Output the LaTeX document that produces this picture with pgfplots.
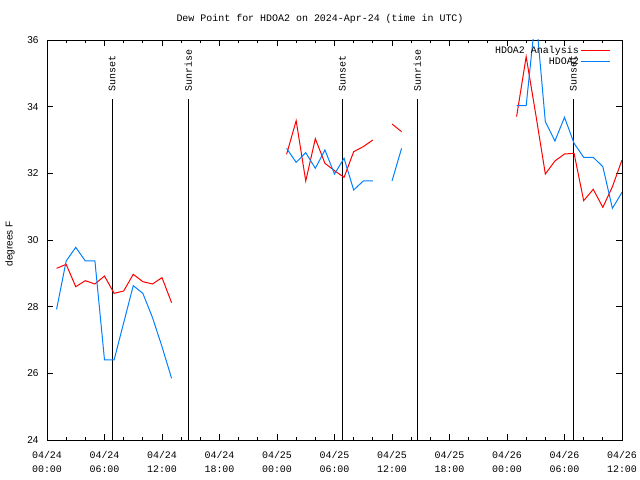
\documentclass[border=0pt]{standalone}
\usepackage{fontspec}
\setmainfont{Liberation Sans}
\newfontfamily\mono{Liberation Mono}
\usepackage{pgfplots}
\pgfplotsset{compat=1.18}
\definecolor{myblue}{RGB}{0,128,255}
\definecolor{myred}{RGB}{255,0,0}
\begin{document}
\begin{tikzpicture}
\useasboundingbox (0,0) rectangle (640bp,480bp);
\begin{axis}[
  at={(47bp,40bp)}, anchor=south west, scale only axis,
  width=575bp, height=400bp,
  xmin=0, xmax=60, ymin=24, ymax=36,
  xtick={0,6,...,60}, minor x tick num=2,
  xticklabels={{04/24\\00:00},{04/24\\06:00},{04/24\\12:00},{04/24\\18:00},{04/25\\00:00},{04/25\\06:00},{04/25\\12:00},{04/25\\18:00},{04/26\\00:00},{04/26\\06:00},{04/26\\12:00}},
  xticklabel style={font=\mono\fontsize{10}{14}\selectfont, align=center, yshift=-8bp},
  ytick={24,26,...,36},
  yticklabel style={font=\fontsize{10}{12}\selectfont, xshift=-5bp},
  /pgf/number format/assume math mode=true,
  major tick length=6bp, minor tick length=3bp,
  axis line style={line width=0.8bp},
  every tick/.style={black, line width=0.8bp},
  title={Dew Point for HDOA2 on 2024-Apr-24 (time in UTC)},
  title style={font=\mono\fontsize{10}{12}\selectfont, at={(axis description cs:0.4748,1)}, anchor=base, yshift=13bp},
  ylabel={degrees F},
  ylabel style={font=\fontsize{10}{12}\selectfont, at={(axis description cs:-0.0643,0.49)}, anchor=center},
  unbounded coords=jump,
  legend style={draw=none, fill=none, at={(axis description cs:0.986,0.995)}, anchor=north east, font=\mono\fontsize{10}{12}\selectfont, row sep=-1bp},
  legend cell align=right, legend plot pos=right,
  legend image code/.code={\draw[#1] (2bp,0bp) -- (31bp,0bp);},
]
% sunset / sunrise lines
\addplot[black, line width=1bp, forget plot] coordinates {(6.8,24) (6.8,34.23)};
\addplot[black, line width=1bp, forget plot] coordinates {(14.75,24) (14.75,34.23)};
\addplot[black, line width=1bp, forget plot] coordinates {(30.82,24) (30.82,34.23)};
\addplot[black, line width=1bp, forget plot] coordinates {(38.64,24) (38.64,34.23)};
\addplot[black, line width=1bp, forget plot] coordinates {(54.92,24) (54.92,34.23)};
\node[rotate=90, anchor=west, inner sep=0pt, font=\mono\fontsize{10}{12}\selectfont] at (axis cs:6.8,34.44) {Sunset};
\node[rotate=90, anchor=west, inner sep=0pt, font=\mono\fontsize{10}{12}\selectfont] at (axis cs:14.75,34.44) {Sunrise};
\node[rotate=90, anchor=west, inner sep=0pt, font=\mono\fontsize{10}{12}\selectfont] at (axis cs:30.82,34.44) {Sunset};
\node[rotate=90, anchor=west, inner sep=0pt, font=\mono\fontsize{10}{12}\selectfont] at (axis cs:38.64,34.44) {Sunrise};
\node[rotate=90, anchor=west, inner sep=0pt, font=\mono\fontsize{10}{12}\selectfont] at (axis cs:54.92,34.44) {Sunset};
% HDOA2 Analysis
\addplot[myred, line width=1bp] coordinates {
 (1,29.15) (2,29.27) (3,28.6) (4,28.78) (5,28.68) (6,28.92) (7,28.4) (8,28.47) (9,28.97) (10,28.75) (11,28.68) (12,28.87) (13,28.12)
 (14,nan)
 (25,32.57) (26,33.58) (27,31.77) (28,33.04) (29,32.3) (30,32.08) (31,31.88) (32,32.65) (33,32.8) (34,33.0)
 (35,nan)
 (36,33.48) (37,33.25)
 (38,nan)
 (49,33.7) (50,35.5) (51,33.77) (52,31.98) (53,32.37) (54,32.58) (55,32.6) (56,31.18) (57,31.52) (58,30.98) (59,31.6) (60,32.4)
};
\addlegendentry{HDOA2 Analysis}
% HDOA2
\addplot[myblue, line width=1bp] coordinates {
 (1,27.92) (2,29.37) (3,29.78) (4,29.37) (5,29.37) (6,26.4) (7,26.4) (9,28.63) (10,28.4) (11,27.68) (12,26.8) (13,25.85)
 (14,nan)
 (25,32.75) (26,32.33) (27,32.62) (28,32.15) (29,32.7) (30,31.98) (31,32.45) (32,31.5) (33,31.77) (34,31.77)
 (35,nan)
 (36,31.77) (37,32.75)
 (38,nan)
 (49,34.03) (50,34.03) (51,36.8) (52,33.55) (53,32.97) (54,33.68) (55,32.9) (56,32.48) (57,32.48) (58,32.2) (59,30.95) (60,31.43)
};
\addlegendentry{HDOA2}
\end{axis}
\end{tikzpicture}
\end{document}
